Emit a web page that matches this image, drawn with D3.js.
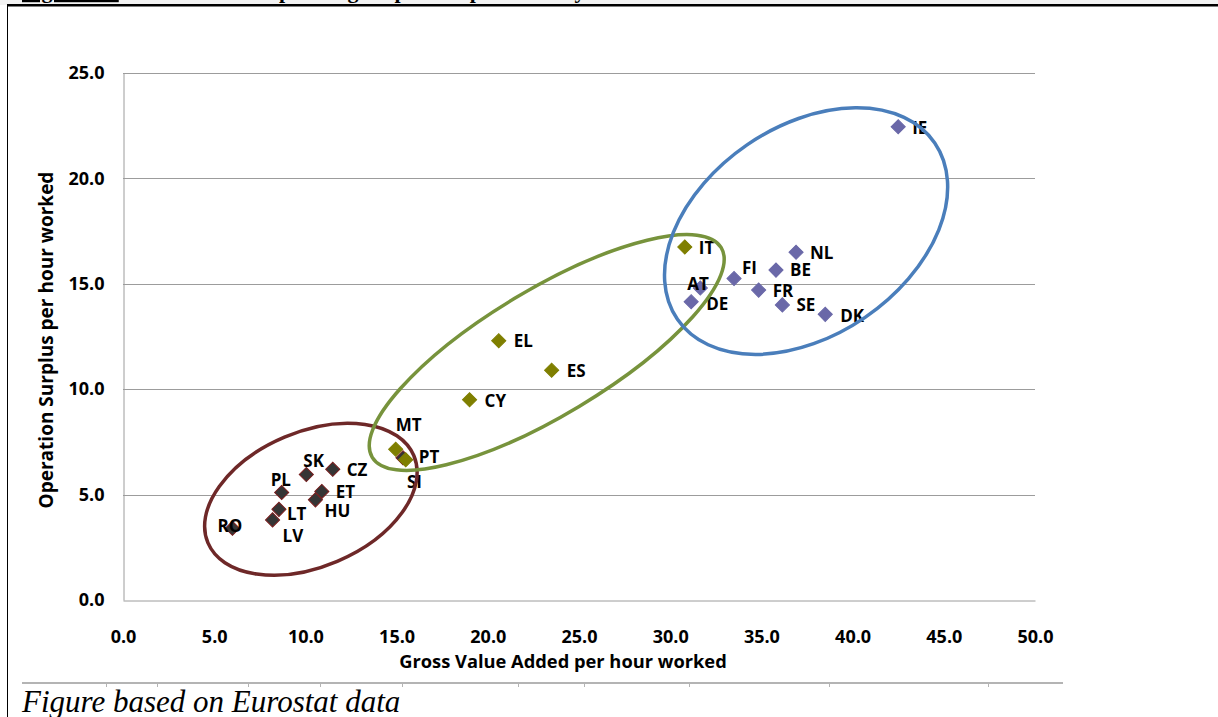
<!DOCTYPE html>
<html>
<head>
<meta charset="utf-8">
<script src="https://cdn.jsdelivr.net/npm/d3@7"></script>
<style>
  html, body { margin: 0; padding: 0; background: #ffffff; }
  svg { display: block; }
</style>
</head>
<body>
<svg id="chart" width="1218" height="717"></svg>
<script>
// ---------------- data ----------------
const countries      = ["RO","LV","LT","PL","HU","ET","SK","CZ","SI","MT","PT","CY","EL","ES","IT","AT","DE","FI","FR","BE","SE","NL","DK","IE"];
const gvaPerHour     = [6.0, 8.2, 8.55, 8.7, 10.55, 10.9, 10.05, 11.5, 15.35, 14.95, 15.5, 19.0, 20.6, 23.5, 30.8, 31.65, 31.15, 33.5, 34.85, 35.8, 36.15, 36.9, 38.5, 42.5];
const surplusPerHour = [3.4, 3.8, 4.3, 5.1, 4.75, 5.15, 5.95, 6.2, 6.75, 7.15, 6.65, 9.5, 12.3, 10.9, 16.75, 14.8, 14.15, 15.25, 14.7, 15.65, 14.0, 16.5, 13.55, 22.45];
const clusterOf      = ["low","low","low","low","low","low","low","low","low","mid","mid","mid","mid","mid","mid","high","high","high","high","high","high","high","high","high"];
const xTicks = [0, 5, 10, 15, 20, 25, 30, 35, 40, 45, 50];
const yTicks = [0, 5, 10, 15, 20, 25];
const xTitle = "Gross Value Added per hour worked";
const yTitle = "Operation Surplus per hour worked";
const caption = "Figure based on Eurostat data";

// cluster ellipses (centre in data units, semi-axes in x-data units, rotation in degrees)
const ellipseNames  = ["low", "mid", "high"];
const ellipseCx     = [10.3, 23.23, 37.45];
const ellipseCy     = [4.78, 11.74, 17.5];
const ellipseRx     = [6.13, 11.16, 8.55];
const ellipseRy     = [3.70, 3.45, 5.73];
const ellipseAngle  = [-23, -31, -34.4];

// ---------------- styles / layout ----------------
const colors = { low: "#353535", mid: "#7f7f00", high: "#6a68a8" };
const strokes = { low: "#7a1f1f", mid: "#7f7f00", high: "#6a68a8" };
const ellipseColors = { low: "#6e2828", mid: "#77933c", high: "#4a7ebb" };
// label offsets (px) relative to marker: [dx, dy] of text start / middle
const labelOffsets = {
  RO: [-15, -2], LV: [10, 16], LT: [8, 5], PL: [-11, -12], HU: [9, 11], ET: [14, 1],
  SK: [-3, -14], CZ: [14, 1], SI: [4, 24], MT: [0, -24], PT: [13, -3], CY: [15, 1],
  EL: [15, 0], ES: [15, 1], IT: [14, 1], AT: [-13, -4], DE: [15, 2], FI: [8, -10],
  FR: [14, 1], BE: [14, 0], SE: [14, 0], NL: [14, 1], DK: [15, 2], IE: [14, 1]
};

const svg = d3.select("#chart");
const W = 1218, H = 717;
svg.append("rect").attr("width", W).attr("height", H).attr("fill", "#fff");

// page decoration (cut-off document title band)
svg.append("rect").attr("x", 0).attr("y", 0).attr("width", W).attr("height", 5).attr("fill", "#f2f2f2");
svg.append("text").attr("x", 22).attr("y", -2)
  .attr("font-family", "Liberation Serif").attr("font-weight", "bold").attr("font-size", 22)
  .attr("text-decoration", "underline").attr("fill", "#000").text("Figure 12:");
svg.append("text").attr("x", 262).attr("y", -2)
  .attr("font-family", "Liberation Serif").attr("font-weight", "bold").attr("font-size", 22)
  .attr("fill", "#000").text("Operating surplus vs. productivity");
svg.append("rect").attr("x", 7).attr("y", 4).attr("width", W - 7).attr("height", 2.5).attr("fill", "#000");
svg.append("rect").attr("x", 7).attr("y", 4).attr("width", 1).attr("height", H).attr("fill", "#000");

// ---------------- scales ----------------
const x = d3.scaleLinear().domain([0, 50]).range([123, 1035]);
const y = d3.scaleLinear().domain([0, 25]).range([600, 73]);
const fmt = d3.format(".1f");
const font = "'Open Sans', 'DejaVu Sans', sans-serif";

// gridlines
svg.append("g").selectAll("line").data(yTicks.filter(d => d > 0)).join("line")
  .attr("x1", x(0)).attr("x2", x(50))
  .attr("y1", d => Math.round(y(d)) + 0.5).attr("y2", d => Math.round(y(d)) + 0.5)
  .attr("stroke", "#9c9c9c").attr("stroke-width", 1);

// axes
const xAxis = svg.append("g").attr("transform", `translate(0,${Math.round(y(0)) + 0.5})`)
  .call(d3.axisBottom(x).tickValues(xTicks).tickFormat(fmt).tickSize(0).tickPadding(30));
const yAxis = svg.append("g").attr("transform", `translate(${Math.round(x(0)) + 0.5},0)`)
  .call(d3.axisLeft(y).tickValues(yTicks).tickFormat(fmt).tickSize(0).tickPadding(19));
[xAxis, yAxis].forEach(a => {
  a.select(".domain").attr("stroke", "#9c9c9c").attr("stroke-width", 1);
  a.selectAll("text").attr("font-family", font).attr("font-weight", "bold")
    .attr("font-size", 18).attr("fill", "#000");
});

// axis titles
svg.append("text").attr("x", 563).attr("y", 668).attr("text-anchor", "middle")
  .attr("font-family", font).attr("font-weight", "bold").attr("font-size", 18.3)
  .attr("fill", "#000").text(xTitle);
svg.append("text").attr("transform", "translate(53,340) rotate(-90)").attr("text-anchor", "middle")
  .attr("font-family", font).attr("font-weight", "bold").attr("font-size", 19)
  .attr("fill", "#000").text(yTitle);

// points
const pts = countries.map((c, i) => ({ c, gx: gvaPerHour[i], sy: surplusPerHour[i], g: clusterOf[i] }));
const order = ["low", "mid", "high"];
const sorted = pts.slice().sort((a, b) => order.indexOf(a.g) - order.indexOf(b.g));
const diamond = d3.symbol().type(d3.symbolSquare).size(100);
svg.append("g").selectAll("path").data(sorted).join("path")
  .attr("d", diamond)
  .attr("transform", d => `translate(${x(d.gx)},${y(d.sy)}) rotate(45)`)
  .attr("fill", d => colors[d.g])
  .attr("stroke", d => strokes[d.g]).attr("stroke-width", 1);

// labels
svg.append("g").selectAll("text").data(pts).join("text")
  .attr("x", d => x(d.gx) + labelOffsets[d.c][0])
  .attr("y", d => y(d.sy) + labelOffsets[d.c][1])
  .attr("dy", "0.35em")
  .attr("font-family", font).attr("font-weight", "bold").attr("font-size", 17)
  .attr("fill", "#000").text(d => d.c);

// ellipses
const unit = x(1) - x(0);
svg.append("g").selectAll("ellipse").data(ellipseNames).join("ellipse")
  .attr("transform", (d, i) => `translate(${x(ellipseCx[i])},${y(ellipseCy[i])}) rotate(${ellipseAngle[i]})`)
  .attr("rx", (d, i) => ellipseRx[i] * unit)
  .attr("ry", (d, i) => ellipseRy[i] * unit)
  .attr("fill", "none")
  .attr("stroke", d => ellipseColors[d]).attr("stroke-width", 3.5);

// bottom rule (table border) and caption
svg.append("rect").attr("x", 22).attr("y", 682).attr("width", 1041).attr("height", 2).attr("fill", "#b4b4b4");
const ruleTicks = [106, 157, 248, 320, 402, 518, 584, 689, 829, 988];
svg.append("g").selectAll("rect").data(ruleTicks).join("rect")
  .attr("x", d => d).attr("y", 684).attr("width", 1).attr("height", 3).attr("fill", "#b4b4b4");
svg.append("text").attr("x", 22).attr("y", 712)
  .attr("font-family", "'Liberation Serif', 'Times New Roman', serif").attr("font-style", "italic")
  .attr("font-size", 31).attr("fill", "#000").text(caption);
</script>
</body>
</html>
